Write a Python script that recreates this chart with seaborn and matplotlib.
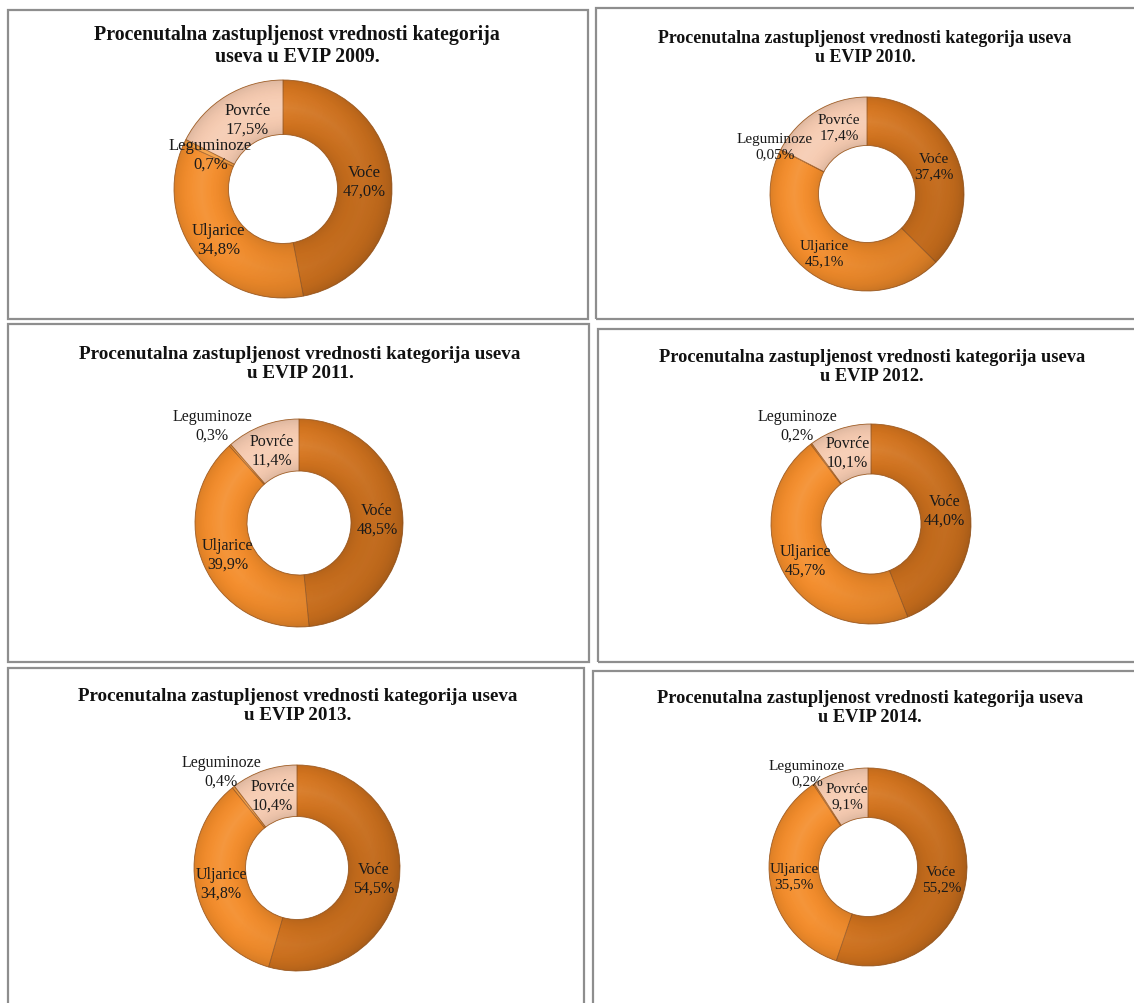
import numpy as np
import matplotlib
matplotlib.use("Agg")
import matplotlib.pyplot as plt
from matplotlib.patches import Rectangle
import seaborn as sns

# Share of crop category values in EVIP, by year
years = [2009, 2010, 2011, 2012, 2013, 2014]
categories = ["Voće", "Uljarice", "Leguminoze", "Povrće"]
voce = [47.0, 37.4, 48.5, 44.0, 54.5, 55.2]
uljarice = [34.8, 45.1, 39.9, 45.7, 34.8, 35.5]
leguminoze = [0.7, 0.05, 0.3, 0.2, 0.4, 0.2]
povrce = [17.5, 17.4, 11.4, 10.1, 10.4, 9.1]
value_labels = [
    ["47,0%", "34,8%", "0,7%", "17,5%"],
    ["37,4%", "45,1%", "0,05%", "17,4%"],
    ["48,5%", "39,9%", "0,3%", "11,4%"],
    ["44,0%", "45,7%", "0,2%", "10,1%"],
    ["54,5%", "34,8%", "0,4%", "10,4%"],
    ["55,2%", "35,5%", "0,2%", "9,1%"],
]
titles = [
    "Procenutalna zastupljenost vrednosti kategorija\nuseva u EVIP 2009.",
    "Procenutalna zastupljenost vrednosti kategorija useva\nu EVIP 2010.",
    "Procenutalna zastupljenost vrednosti kategorija useva\nu EVIP 2011.",
    "Procenutalna zastupljenost vrednosti kategorija useva\nu EVIP 2012.",
    "Procenutalna zastupljenost vrednosti kategorija useva\nu EVIP 2013.",
    "Procenutalna zastupljenost vrednosti kategorija useva\nu EVIP 2014.",
]

sns.set_theme(style="white")
plt.rcParams["font.family"] = ["Liberation Serif", "DejaVu Serif"]

W, H = 1134, 1004
fig = plt.figure(figsize=(W / 100, H / 100), dpi=100)
fig.patch.set_facecolor("white")

palette = sns.color_palette(["#d7761f", "#f48d2b", "#f5a043", "#f6cbb1"])
edge_col = "#a8642a"

# panel layout in pixels: frame box, donut centre, outer radius, title,
# font sizes, radial position of the "Leguminoze" label and a nudge for "Povrće"
panels = [
    dict(box=(8, 11, 588, 320), c=(283, 190), R=109, tx=297, ty=46, tfs=14.3, lfs=12.0,
         leg=0.74, pov=(7, 0)),
    dict(box=(596, 9, 1140, 320), c=(867, 195), R=97, tx=865, ty=48, tfs=12.9, lfs=11.0,
         leg=1.07, pov=(10, -5)),
    dict(box=(8, 325, 589, 663), c=(299, 524), R=104, tx=300, ty=364, tfs=13.8, lfs=11.5,
         leg=1.26, pov=(0, 0)),
    dict(box=(598, 330, 1140, 663), c=(871, 525), R=100, tx=872, ty=367, tfs=13.2, lfs=11.5,
         leg=1.23, pov=(0, 0)),
    dict(box=(8, 669, 584, 1010), c=(297, 869), R=103, tx=298, ty=706, tfs=13.7, lfs=11.5,
         leg=1.19, pov=(0, 0)),
    dict(box=(593, 672, 1140, 1010), c=(868, 868), R=99, tx=870, ty=708, tfs=13.2, lfs=11.0,
         leg=1.13, pov=(0, 0)),
]

# soft shading: a little darker to the lower right and at the rims of the ring
gx, gy = np.meshgrid(np.linspace(-1, 1, 300), np.linspace(1, -1, 300))
radial = np.sqrt(gx ** 2 + gy ** 2)
band = np.clip(1 - np.abs(radial - 0.75) / 0.25, 0, 1)
shade = np.zeros((300, 300, 4))
shade[..., 3] = np.clip(0.03 + 0.09 * gx - 0.04 * gy, 0, 0.16) + 0.10 * (1 - band) ** 3
glow = np.zeros((300, 300, 4))
glow[..., :3] = 1.0
glow[..., 3] = 0.10 * band ** 2 * np.clip(0.6 - 0.4 * gx + 0.3 * gy, 0, 1)

for i, p in enumerate(panels):
    x0, y0, x1, y1 = p["box"]
    fig.patches.append(Rectangle((x0 / W, 1 - y1 / H), (x1 - x0) / W, (y1 - y0) / H,
                                 transform=fig.transFigure, fill=False,
                                 edgecolor="#8e8e8e", linewidth=1.6, zorder=0))
    fig.text(p["tx"] / W, 1 - p["ty"] / H, titles[i], ha="center", va="center",
             fontsize=p["tfs"], fontweight="bold", color="#111111",
             linespacing=1.15)

    cx, cy = p["c"]
    R = p["R"]
    ax = fig.add_axes([(cx - R) / W, 1 - (cy + R) / H, 2 * R / W, 2 * R / H])
    vals = [voce[i], uljarice[i], leguminoze[i], povrce[i]]
    wedges, _ = ax.pie(vals, colors=palette, startangle=90, counterclock=False,
                       radius=1.0,
                       wedgeprops=dict(width=0.5, edgecolor=edge_col, linewidth=0.6))
    ax.set_xlim(-1, 1)
    ax.set_ylim(-1, 1)
    ax.set_aspect("equal")
    ax.axis("off")

    for w in wedges:
        im = ax.imshow(shade, extent=(-1, 1, -1, 1), zorder=3, interpolation="bilinear")
        im.set_clip_path(w)
        im2 = ax.imshow(glow, extent=(-1, 1, -1, 1), zorder=3, interpolation="bilinear")
        im2.set_clip_path(w)
        w.set_zorder(2)

    total = sum(vals)
    start = 90.0
    for j, v in enumerate(vals):
        sweep = 360.0 * v / total
        mid = np.deg2rad(start - sweep / 2)
        start -= sweep
        r = p["leg"] if categories[j] == "Leguminoze" else 0.75
        lx, ly = r * np.cos(mid), r * np.sin(mid)
        if categories[j] == "Povrće":
            lx += p["pov"][0] / R
            ly -= p["pov"][1] / R
        ax.text(lx, ly, f"{categories[j]}\n{value_labels[i][j]}",
                ha="center", va="center", fontsize=p["lfs"], color="#1a1a1a",
                linespacing=1.22, zorder=5, clip_on=False)

fig.savefig("out.png", dpi=100, facecolor="white")
